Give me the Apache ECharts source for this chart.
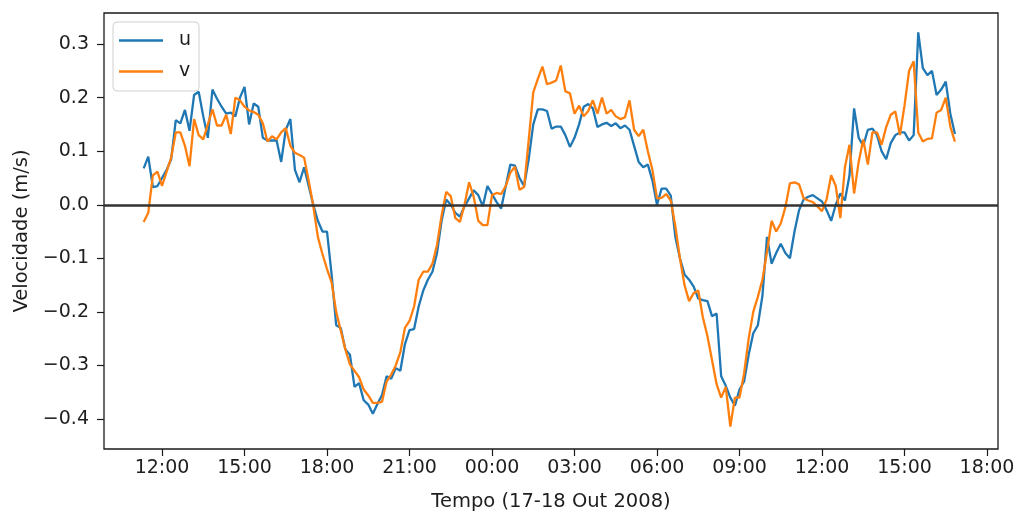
<!DOCTYPE html>
<html>
<head>
<meta charset="utf-8">
<script src="https://cdn.jsdelivr.net/npm/echarts@6.0.0/dist/echarts.min.js"></script>
<style>
html,body{margin:0;padding:0;background:#fff;}
#chart{width:1018px;height:512px;}
</style>
</head>
<body>
<div id="chart"></div>
<script>
// Sampling: first sample 17 Oct 11:20, every 10 minutes (hours since 17 Oct 00:00)
const START_HOUR = 11 + 20 / 60;
const STEP_HOUR = 10 / 60;

const u = [
  0.068, 0.09, 0.033, 0.035, 0.05, 0.065, 0.085, 0.158, 0.152, 0.177,
  0.138, 0.205, 0.211, 0.165, 0.125, 0.215, 0.198, 0.183, 0.17, 0.172,
  0.165, 0.2, 0.22, 0.15, 0.189, 0.183, 0.125, 0.12, 0.12, 0.12,
  0.08, 0.14, 0.16, 0.065, 0.042, 0.07, 0.035, 0.0, -0.03, -0.05,
  -0.05, -0.13, -0.225, -0.23, -0.27, -0.28, -0.34, -0.333, -0.365, -0.373,
  -0.39, -0.372, -0.355, -0.32, -0.325, -0.305, -0.31, -0.26, -0.234, -0.232,
  -0.19, -0.16, -0.14, -0.125, -0.09, -0.03, 0.01, 0.0, -0.015, -0.022,
  -0.003, 0.012, 0.027, 0.018, -0.003, 0.035, 0.02, 0.005, -0.007, 0.035,
  0.075, 0.073, 0.05, 0.035, 0.085, 0.15, 0.178, 0.178, 0.175, 0.142,
  0.146, 0.146, 0.13, 0.108, 0.125, 0.15, 0.183, 0.188, 0.18, 0.145,
  0.15, 0.153, 0.147, 0.152, 0.143, 0.148, 0.14, 0.11, 0.08, 0.07,
  0.075, 0.045, 0.0, 0.03, 0.03, 0.017, -0.06, -0.1, -0.13, -0.14,
  -0.153, -0.175, -0.178, -0.18, -0.208, -0.203, -0.32, -0.338, -0.36, -0.375,
  -0.345, -0.33, -0.28, -0.24, -0.225, -0.17, -0.06, -0.11, -0.09, -0.073,
  -0.09, -0.1, -0.05, -0.01, 0.01, 0.015, 0.018, 0.012, 0.006, -0.01,
  -0.03, 0.0, 0.021, 0.008, 0.055, 0.18, 0.125, 0.11, 0.14, 0.142,
  0.13, 0.1, 0.085, 0.115, 0.13, 0.135, 0.135, 0.12, 0.13, 0.322,
  0.255, 0.242, 0.25, 0.205, 0.215, 0.23, 0.17, 0.132
];

const v = [
  -0.032, -0.015, 0.055, 0.062, 0.035, 0.062, 0.088, 0.135, 0.135, 0.11,
  0.072, 0.16, 0.13, 0.122, 0.15, 0.178, 0.148, 0.148, 0.168, 0.132,
  0.2, 0.195, 0.183, 0.176, 0.173, 0.168, 0.152, 0.118, 0.128, 0.122,
  0.135, 0.143, 0.11, 0.097, 0.093, 0.088, 0.045, -0.002, -0.06, -0.092,
  -0.12, -0.145, -0.2, -0.235, -0.27, -0.298, -0.31, -0.322, -0.345, -0.356,
  -0.37, -0.37, -0.368, -0.33, -0.317, -0.3, -0.275, -0.23, -0.217, -0.19,
  -0.14, -0.125, -0.125, -0.11, -0.075, -0.02, 0.024, 0.016, -0.025, -0.032,
  0.0, 0.042, 0.015, -0.03, -0.038, -0.038, 0.018, 0.022, 0.02, 0.035,
  0.06, 0.071, 0.028, 0.033, 0.12, 0.21, 0.235, 0.258, 0.225, 0.228,
  0.232, 0.26, 0.212, 0.208, 0.17, 0.185, 0.165, 0.175, 0.195, 0.17,
  0.2, 0.17, 0.177, 0.165, 0.16, 0.163, 0.195, 0.14, 0.128, 0.14,
  0.1, 0.065, 0.012, 0.013, 0.02, 0.008, -0.04, -0.1, -0.15, -0.18,
  -0.165, -0.16, -0.21, -0.245, -0.29, -0.335, -0.36, -0.34, -0.414, -0.36,
  -0.36, -0.315, -0.25, -0.2, -0.172, -0.14, -0.088, -0.03, -0.05, -0.035,
  -0.005, 0.04, 0.042, 0.038, 0.012, 0.008, 0.005, -0.003, -0.012, 0.01,
  0.055, 0.035, -0.025, 0.07, 0.112, 0.021, 0.08, 0.122, 0.075, 0.135,
  0.135, 0.112, 0.145, 0.168, 0.174, 0.13, 0.185, 0.25, 0.268, 0.135,
  0.118, 0.123, 0.124, 0.172, 0.177, 0.2, 0.146, 0.118
];

const xTickHours = [12, 15, 18, 21, 24, 27, 30, 33, 36, 39, 42];
const xTickLabels = ['12:00', '15:00', '18:00', '21:00', '00:00', '03:00', '06:00', '09:00', '12:00', '15:00', '18:00'];
const yTickValues = [-0.4, -0.3, -0.2, -0.1, 0.0, 0.1, 0.2, 0.3];
const yTickLabels = ['\u22120.4', '\u22120.3', '\u22120.2', '\u22120.1', '0.0', '0.1', '0.2', '0.3'];

const times = u.map((_, i) => START_HOUR + i * STEP_HOUR);
const uData = u.map((val, i) => [times[i], val]);
const vData = v.map((val, i) => [times[i], val]);

const FONT = 'DejaVu Sans';
const TXT = '#1e1e1e';
const FS_TICK = 19;
const FS_NAME = 19.5;

const chart = echarts.init(document.getElementById('chart'), null, {renderer: 'canvas'});
chart.setOption({
  animation: false,
  backgroundColor: '#fff',
  textStyle: {fontFamily: FONT},
  grid: {
    left: 104, right: 20, top: 13, bottom: 63,
    containLabel: false, outerBoundsMode: 'none',
    show: true, borderColor: '#1a1a1a', borderWidth: 1.3, backgroundColor: 'transparent'
  },
  legend: {
    orient: 'vertical',
    left: 113, top: 22,
    data: ['u', 'v'],
    icon: 'rect',
    itemWidth: 44, itemHeight: 2.6,
    itemGap: 12,
    padding: [9, 8, 10, 6],
    borderColor: '#d0d0d0', borderWidth: 1, borderRadius: 4,
    backgroundColor: 'rgba(255,255,255,0.8)',
    textStyle: {fontFamily: FONT, fontSize: FS_TICK, color: TXT, padding: [0, 0, 0, 11], lineHeight: 18}
  },
  xAxis: {
    type: 'value',
    min: 9.89, max: 42.4,
    name: 'Tempo (17-18 Out 2008)',
    nameLocation: 'middle',
    nameGap: 43,
    nameTextStyle: {fontFamily: FONT, fontSize: FS_NAME, color: TXT},
    axisLine: {show: false, onZero: false},
    axisTick: {show: true, inside: false, length: 7, lineStyle: {color: '#1a1a1a', width: 1.2}, customValues: xTickHours},
    axisLabel: {
      fontFamily: FONT, fontSize: FS_TICK, color: TXT, margin: 10,
      customValues: xTickHours,
      formatter: (val) => {
        const k = xTickHours.findIndex(h => Math.abs(h - val) < 1e-6);
        return k >= 0 ? xTickLabels[k] : '';
      }
    },
    splitLine: {show: false}
  },
  yAxis: {
    type: 'value',
    min: -0.456, max: 0.358,
    name: 'Velocidade (m/s)',
    nameLocation: 'middle',
    nameGap: 72,
    nameTextStyle: {fontFamily: FONT, fontSize: FS_NAME, color: TXT},
    axisLine: {show: false, onZero: false},
    axisTick: {show: true, inside: false, length: 7, lineStyle: {color: '#1a1a1a', width: 1.2}, customValues: yTickValues},
    axisLabel: {
      fontFamily: FONT, fontSize: FS_TICK, color: TXT, margin: 15,
      customValues: yTickValues,
      formatter: (val) => {
        const k = yTickValues.findIndex(t => Math.abs(t - val) < 1e-6);
        return k >= 0 ? yTickLabels[k] : '';
      }
    },
    splitLine: {show: false}
  },
  series: [
    {
      name: 'u', type: 'line', data: uData,
      symbol: 'none', showSymbol: false,
      lineStyle: {color: '#1f77b4', width: 2.3},
      itemStyle: {color: '#1f77b4'},
      z: 2,
      markLine: {
        silent: true, symbol: ['none', 'none'],
        label: {show: false},
        lineStyle: {color: '#333', width: 2.7, type: 'solid'},
        data: [{yAxis: 0}],
        z: 5
      }
    },
    {
      name: 'v', type: 'line', data: vData,
      symbol: 'none', showSymbol: false,
      lineStyle: {color: '#ff7f0e', width: 2.3},
      itemStyle: {color: '#ff7f0e'},
      z: 3
    }
  ]
});
</script>
</body>
</html>
